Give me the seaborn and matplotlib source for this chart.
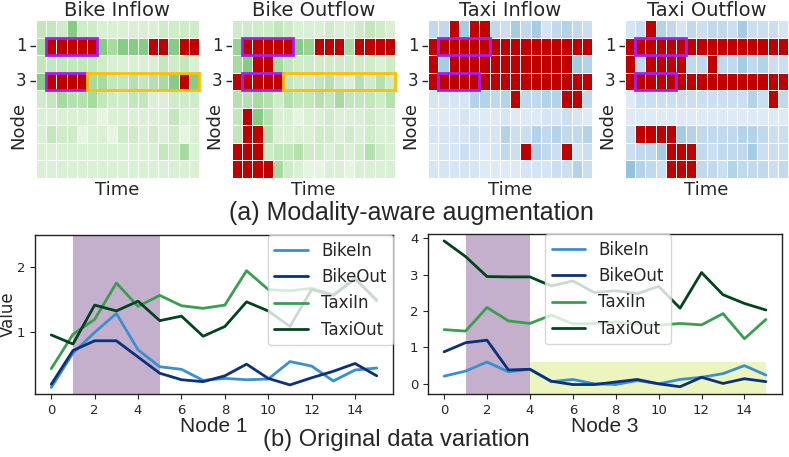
import numpy as np
import pandas as pd
import matplotlib
matplotlib.use('Agg')
import matplotlib.pyplot as plt
import seaborn as sns
from matplotlib.colors import ListedColormap
from matplotlib.patches import Rectangle

R = 9  # cells drawn in red (augmented / high values)

# heatmap levels (0 = lightest, 4 = darkest shade)
bike_in = [
    [2, 2, 1.5, 4, 1.5, 1.5, 1, 1, 1, 1, 1, 1, 1.5, 1.5, 1.5, 1.5],
    [3, R, R, R, R, R, 4, 3, 4, 4, 4, R, R, 4, R, R],
    [2, 2, 2, 2, 2, 2, 1.5, 1, 1, 1, 1, 1, 2, 1.5, 2, 1],
    [4, R, R, R, R, 3, 3, 2, 2, 2.5, 2, 2.5, 3, 4, R, 4],
    [1.5, 2, 3, 2.5, 2.5, 3, 2, 1.5, 1.5, 2, 2, 1, 1, 1.5, 1.5, 1.5],
    [1, 1, 1, 1, 1, 1, 0.5, 1, 1, 1, 1, 1, 1, 2, 1, 1],
    [1, 2, 1.5, 1.5, 0.5, 1, 1, 0.5, 1.5, 1.5, 1, 1.5, 1, 1.5, 0.5, 1],
    [1, 1, 1, 1, 1, 1, 1, 1, 1, 1, 1, 1, 2, 1.5, 3, 1],
    [1, 1, 1, 1, 1, 1, 1, 1, 1, 1, 1, 1, 1, 1, 1, 1],
]
bike_out = [
    [1.5, 1.5, 1.5, 1.5, 2, 1.5, 1, 1, 1, 1.5, 1, 1, 1.5, 2, 1.5, 1],
    [3.5, R, R, R, R, R, 4, 3.5, R, R, R, 3, R, R, R, R],
    [3, 4, R, R, 3, 2, 1.5, 1.5, 1.5, 1.5, 1.5, 1.5, 1.5, 1.5, 1, 1.5],
    [R, R, R, R, R, 2, 1.5, 1.5, 2, 2.5, 1.5, 1, 2.5, 1.5, 2.5, 1.5],
    [2.5, 2.5, 3, 2.5, 1.5, 2.5, 2, 2, 2.5, 2, 3, 2, 2, 2, 1.5, 2.5],
    [2, R, 4, 2.5, 1, 1, 0.5, 1, 1, 1.5, 1, 1, 1, 1.5, 1, 1],
    [2, R, R, 2.5, 1, 1, 1, 1, 1.5, 1.5, 1, 1.5, 1, 1.5, 1, 1],
    [R, R, R, 1.5, 2, 2, 2.5, 1.5, 1.5, 1, 1.5, 1, 1.5, 2.5, 1.5, 1],
    [R, R, R, R, 3, 1.5, 1, 0.5, 0.5, 1, 1, 0.5, 1, 1, 1, 1],
]
taxi_in = [
    [2, 2, R, 3, R, R, 2, 1.5, 3, 2, 3, 1, 2, 2.5, 2, 1.5],
    [R, R, R, R, R, R, R, R, R, R, R, R, R, R, R, R],
    [R, 3, R, R, R, R, R, R, R, R, R, R, R, R, 3, 2.5],
    [R, R, R, R, R, R, R, R, R, R, R, R, R, R, R, R],
    [1, 1, 1, 1, 2.5, 2.5, 2, 2.5, R, 2, 2, 2.5, 2.5, R, R, 2],
    [0.5, 0.5, 0.5, 1, 0.5, 0.5, 0.5, 1, 0.5, 0.5, 0.5, 1, 1, 1.5, 1, 0.5],
    [1, 1, 1, 1, 1.5, 1, 1, 2.5, 1.5, 1.5, 2.5, 2, 2.5, 2, 2, 2.5],
    [0.5, 1, 1, 1.5, 1, 0.5, 1, 2, 1.5, R, 2.5, 2, 1.5, R, 1, 1.5],
    [1, 1, 1, 1, 1, 0.5, 0.5, 0.5, 0.5, 1, 1, 1, 1.5, 1.5, 2.5, 1.5],
]
taxi_out = [
    [1, 1.5, R, 2.5, 2, 1, 2, 1.5, 2, 2, 1.5, 3, 1.5, 1.5, 1.5, 1],
    [R, R, R, R, R, R, R, R, R, R, R, R, R, R, R, R],
    [R, 2, R, R, R, R, 2, 2, R, 2, 2, 3, 2, 2.5, 1.5, 1.5],
    [R, R, R, R, R, R, R, R, R, R, R, R, R, R, R, R],
    [0.5, 1.5, 1.5, 1.5, 1.5, 1.5, 1.5, 1.5, 1.5, 1.5, 1.5, 1.5, 2.5, 1.5, R, 2],
    [0.5, 0.5, 0.5, 0.5, 0.5, 0.5, 0.5, 0.5, 0.5, 0.5, 0.5, 0.5, 0.5, 0.5, 0.5, 0.5],
    [1.5, R, R, R, R, 3, 2.5, 2, 2, 2, 2, 2.5, 2.5, 2, 1.5, 1.5],
    [1.5, 2, 2, 3, R, R, R, 2, 1.5, 2, 2, 2, 3, 1.5, 1.5, 1.5],
    [3.5, 2.5, 2, 1.5, R, R, R, 2, 2, 1.5, 2.5, 2, 2, 2, 1.5, 2],
]
heat_titles = ['Bike Inflow', 'Bike Outflow', 'Taxi Inflow', 'Taxi Outflow']

# line data, node 1 and node 3
t = list(range(16))
series_names = ['BikeIn', 'BikeOut', 'TaxiIn', 'TaxiOut']
node1_bike_in = [0.15, 0.68, 1.0, 1.29, 0.73, 0.47, 0.43, 0.26, 0.29, 0.27, 0.28, 0.55, 0.48, 0.25, 0.42, 0.45]
node1_bike_out = [0.2, 0.72, 0.87, 0.87, 0.62, 0.37, 0.27, 0.24, 0.33, 0.51, 0.29, 0.19, 0.3, 0.4, 0.52, 0.33]
node1_taxi_in = [0.44, 0.97, 1.2, 1.76, 1.4, 1.57, 1.41, 1.37, 1.42, 1.95, 1.66, 1.64, 1.68, 1.58, 1.84, 1.48]
node1_taxi_out = [0.96, 0.82, 1.42, 1.33, 1.48, 1.18, 1.25, 0.94, 1.09, 1.47, 1.33, 1.09, 1.66, 1.57, 1.82, 1.5]
node3_bike_in = [0.21, 0.35, 0.6, 0.33, 0.4, 0.06, 0.12, 0.0, -0.02, 0.09, 0.0, 0.12, 0.18, 0.28, 0.5, 0.24]
node3_bike_out = [0.88, 1.13, 1.2, 0.38, 0.4, 0.07, -0.02, -0.02, 0.05, 0.12, 0.0, -0.08, 0.18, 0.01, 0.14, 0.06]
node3_taxi_in = [1.49, 1.45, 2.1, 1.73, 1.66, 1.89, 1.65, 1.66, 1.7, 1.64, 1.61, 1.66, 1.62, 1.93, 1.24, 1.77]
node3_taxi_out = [3.93, 3.5, 2.95, 2.94, 2.94, 2.69, 2.83, 2.51, 2.56, 2.48, 2.68, 2.08, 3.06, 2.45, 2.21, 2.03]

line_colors = ['#3b8fd0', '#0b3179', '#3a9e50', '#00441b']
W, H = 789, 457

sns.set_style('ticks')
plt.rcParams['font.family'] = ['DejaVu Sans']


def px_axes(fig, x0, y0, x1, y1):
    return fig.add_axes([x0 / W, (H - y1) / H, (x1 - x0) / W, (y1 - y0) / H])


def light_cmap(name):
    base = plt.get_cmap(name)
    cm = ListedColormap(base(np.linspace(0.08, 0.45, 256)))
    cm.set_over('#c00000')
    return cm


fig = plt.figure(figsize=(W / 100, H / 100), dpi=100)

heat_pos = [(36, 199), (232, 395), (428, 592), (625, 788)]
heat_data = [bike_in, bike_out, taxi_in, taxi_out]
heat_cmaps = ['Greens', 'Greens', 'Blues', 'Blues']
purple = '#a51ff0'
orange = '#ffc000'

for k in range(4):
    ax = px_axes(fig, heat_pos[k][0], 20, heat_pos[k][1], 178)
    sns.heatmap(np.array(heat_data[k], dtype=float), ax=ax, cmap=light_cmap(heat_cmaps[k]),
                vmin=0, vmax=4, cbar=False, linewidths=0.6, linecolor='white')
    ax.set_xticks([])
    ax.set_yticks([1.5, 3.5])
    ax.set_yticklabels(['1', '3'], rotation=0, fontsize=12)
    ax.tick_params(axis='y', length=4, width=1, pad=3)
    ax.set_title(heat_titles[k], fontsize=14, pad=2)
    ax.set_xlabel('Time', fontsize=13, labelpad=2)
    ax.set_ylabel('Node', fontsize=13)
    ax.yaxis.set_label_coords(-0.055, 0.33)
    ax.add_patch(Rectangle((1, 1), 5, 1, fill=False, edgecolor=purple, lw=2, zorder=5))
    ax.add_patch(Rectangle((1, 3), 4, 1, fill=False, edgecolor=purple, lw=2, zorder=5))
    if k < 2:
        ax.add_patch(Rectangle((5, 3), 11, 1, fill=False, edgecolor=orange, lw=2,
                               zorder=5, clip_on=False))

fig.text(411 / W, 1 - 213 / H, '(a) Modality-aware augmentation', ha='center', va='center',
         fontsize=18, family='Liberation Sans')

node_data = [
    [node1_bike_in, node1_bike_out, node1_taxi_in, node1_taxi_out],
    [node3_bike_in, node3_bike_out, node3_taxi_in, node3_taxi_out],
]
line_pos = [(35, 235, 393, 394), (428, 234, 782, 394)]
node_labels = ['Node 1', 'Node 3']

for k in range(2):
    ax = px_axes(fig, *line_pos[k])
    df = pd.DataFrame({'t': t})
    for name, vals in zip(series_names, node_data[k]):
        df[name] = vals
    long = df.melt(id_vars='t', var_name='series', value_name='value')
    if k == 0:
        ax.axvspan(1, 5, color='#c4b0cc', lw=0, zorder=0)
    else:
        ax.axvspan(1, 4, color='#c4b0cc', lw=0, zorder=0)
        ax.fill_between([4, 15], -0.3, 0.6, color='#edf5be', lw=0, zorder=0)
    sns.lineplot(data=long, x='t', y='value', hue='series', palette=line_colors,
                 linewidth=2, ax=ax, zorder=2)
    ax.set_xticks(range(0, 16, 2))
    ax.set_xlim(-0.75, 15.75)
    if k == 0:
        ax.set_ylim(0.05, 2.5)
        ax.set_yticks([1, 2])
        ax.set_ylabel('Value', fontsize=12)
        ax.yaxis.set_label_coords(-0.05, 0.5)
        leg = ax.legend(loc='upper right', fontsize=12, handlelength=2.0,
                        borderaxespad=0.0)
    else:
        ax.set_ylim(-0.28, 4.12)
        ax.set_yticks([0, 1, 2, 3, 4])
        ax.set_ylabel('')
        leg = ax.legend(loc='upper center', bbox_to_anchor=(0.508, 1.0), fontsize=12,
                        handlelength=2.0, borderaxespad=0.0)
    ax.tick_params(labelsize=9.5, length=3.5)
    ax.set_xlabel(node_labels[k], fontsize=15, family='Liberation Sans', labelpad=0)
    for sp in ax.spines.values():
        sp.set_color('#222222')
        sp.set_linewidth(1)

fig.text(396 / W, 1 - 440 / H, '(b) Original data variation', ha='center', va='center',
         fontsize=17, family='Liberation Sans')

fig.savefig('out.png', dpi=100)
